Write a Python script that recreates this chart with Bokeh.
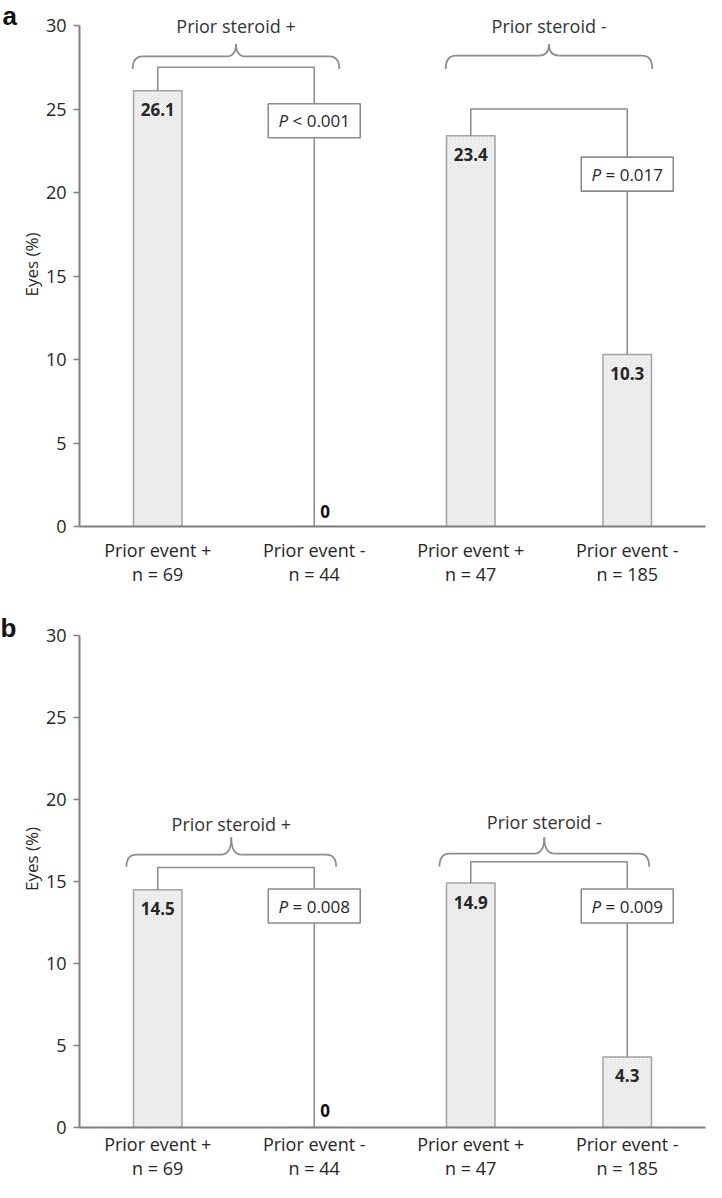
import math
from bokeh.plotting import figure
from bokeh.models import FactorRange, Range1d, Label, FixedTicker, ColumnDataSource
from bokeh.layouts import column
from bokeh.embed import file_html
from bokeh.resources import INLINE
from bokeh.core.properties import value

# ---------------- data ----------------
groups = ["Prior steroid +", "Prior steroid -"]
categories = ["Prior event +", "Prior event -", "Prior event +", "Prior event -"]
n_values = [69, 44, 47, 185]
values_a = [26.1, 0, 23.4, 10.3]
values_b = [14.5, 0, 14.9, 4.3]
p_text_a = ["< 0.001", "= 0.017"]
p_text_b = ["= 0.008", "= 0.009"]
y_ticks = [0, 5, 10, 15, 20, 25, 30]

# ---------------- style ----------------
FONT = "Open Sans"
TXT = "#262626"
LINE = "#8c8c8c"
AXIS = "#808080"

CW = {"0": .572, "1": .572, "2": .572, "3": .572, "4": .572, "5": .572, "6": .572,
      "7": .572, "8": .572, "9": .572, " ": .26, ".": .266, "=": .572, "<": .572}


def tw(s, size):
    return sum(CW.get(c, .57) for c in s) * size


def make_panel(letter, values, ptexts, cfg):
    factors = [f"{categories[i]}\nn = {n_values[i]}" for i in range(len(categories))]
    p = figure(width=714, height=cfg["height"],
               x_range=FactorRange(factors=factors, range_padding=0),
               y_range=Range1d(0, cfg["ytop"]),
               output_backend="svg", toolbar_location=None,
               min_border_left=70, min_border_right=cfg["rb"],
               min_border_top=2, min_border_bottom=cfg["bb"])
    p.xgrid.visible = False
    p.ygrid.visible = False
    p.outline_line_color = None

    # axes
    p.yaxis.ticker = FixedTicker(ticks=y_ticks)
    p.yaxis.bounds = (0, 30)
    p.yaxis.major_tick_out = 6
    p.yaxis.major_tick_in = 0
    p.yaxis.minor_tick_line_color = None
    p.yaxis.axis_line_color = AXIS
    p.yaxis.axis_line_width = 2
    p.yaxis.major_tick_line_color = AXIS
    p.yaxis.major_tick_line_width = 1.5
    p.yaxis.major_label_text_font = FONT
    p.yaxis.major_label_text_font_size = "18px"
    p.yaxis.major_label_text_color = TXT
    p.yaxis.major_label_standoff = 7
    p.yaxis.axis_label = "Eyes (%)"
    p.yaxis.axis_label_text_font = FONT
    p.yaxis.axis_label_text_font_size = "17px"
    p.yaxis.axis_label_text_font_style = "normal"
    p.yaxis.axis_label_text_color = TXT
    p.yaxis.axis_label_standoff = 0

    p.xaxis.major_tick_out = 0
    p.xaxis.major_tick_in = 0
    p.xaxis.major_tick_line_color = None
    p.xaxis.axis_line_color = AXIS
    p.xaxis.axis_line_width = 2
    p.xaxis.major_label_text_font = FONT
    p.xaxis.major_label_text_font_size = "18px"
    p.xaxis.major_label_text_color = TXT
    p.xaxis.major_label_text_line_height = 1.0
    p.xaxis.major_label_standoff = cfg["xstand"]

    # bars
    p.vbar(x=factors, top=values, bottom=0, width=0.31,
           fill_color="#f5f5f5", hatch_pattern="x", hatch_color="#d6d6d6",
           hatch_scale=4, hatch_weight=0.7,
           line_color="#a3a3a3", line_width=1.5)

    # brackets, braces, p boxes
    for g in range(len(groups)):
        il, ir = 2 * g, 2 * g + 1
        xl, xr = il + 0.5, ir + 0.5
        h = cfg["bracket"][g]
        p.line(x=[xl, xl, xr, xr], y=[values[il], h, h, values[ir]],
               line_color=LINE, line_width=1.6)
        p.rect(x=[xr], y=[cfg["box_y"][g]], width=92, height=34,
               width_units="screen", height_units="screen",
               fill_color="white", line_color=LINE, line_width=1.6)
        size = 17
        rest = ptexts[g]
        wp = 0.573 * size
        total = wp + 0.26 * size + tw(rest, size)
        x0 = -total / 2
        p.text(x=[xr], y=[cfg["box_y"][g]], text=["P"], x_offset=x0,
               text_align="left", text_baseline="middle",
               text_font=value(FONT), text_font_size=f"{size}px",
               text_font_style="italic", text_color=TXT)
        p.text(x=[xr], y=[cfg["box_y"][g]], text=[rest], x_offset=x0 + wp + 0.26 * size,
               text_align="left", text_baseline="middle",
               text_font=value(FONT), text_font_size=f"{size}px", text_color=TXT)

        # curly brace
        c = (il + ir) / 2 + 0.5 + cfg["brace_shift"]
        half = cfg["brace_half"]
        bl, br = c - half, c + half
        dx = 0.065
        bh, tip, top = cfg["brace_h"][g], cfg["brace_tip"], cfg["brace_top"]
        p.quadratic(x0=[bl, c - dx, c, br - dx], y0=[tip, bh, top, bh],
                    x1=[bl + dx, c, c + dx, br], y1=[bh, top, bh, tip],
                    cx=[bl, c, c, br], cy=[bh, bh, bh, bh],
                    line_color=LINE, line_width=1.7)
        p.segment(x0=[bl + dx, c + dx], y0=[bh, bh], x1=[c - dx, br - dx], y1=[bh, bh],
                  line_color=LINE, line_width=1.7)
        p.text(x=[c], y=[cfg["group_y"][g]], text=[groups[g]],
               text_align="center", text_baseline="middle",
               text_font=value(FONT), text_font_size="18px", text_color="#333333")

    # bar value labels
    pos = [i for i, v in enumerate(values) if v > 0]
    zero = [i for i, v in enumerate(values) if v == 0]
    src_pos = ColumnDataSource(dict(x=[factors[i] for i in pos], y=[values[i] for i in pos],
                                    t=[f"{values[i]:g}" for i in pos]))
    p.text(x="x", y="y", text="t", source=src_pos, y_offset=19,
           text_align="center", text_baseline="middle",
           text_font=value(FONT), text_font_size="17px", text_font_style="bold",
           text_color=TXT)
    src_zero = ColumnDataSource(dict(x=[factors[i] for i in zero], y=[values[i] for i in zero],
                                     t=[f"{values[i]:g}" for i in zero]))
    p.text(x="x", y="y", text="t", source=src_zero, x_offset=6, y_offset=-cfg["zero_off"],
           text_align="left", text_baseline="middle",
           text_font=value(FONT), text_font_size="17px", text_font_style="bold",
           text_color="#111111")

    # panel letter (in the left side panel, outside the frame)
    p.add_layout(Label(x=0, x_units="screen", y=30, y_offset=cfg["letter_off"], text=letter,
                       text_align="left", text_baseline="alphabetic",
                       text_font="Liberation Sans", text_font_size="26px",
                       text_font_style="bold", text_color="#111111"), "left")
    return p


cfg_a = dict(height=588, ytop=31.38, bb=62, rb=2, xstand=11,
             bracket=[27.5, 25.0], box_y=[24.3, 21.1],
             brace_h=[28.15, 28.2], brace_tip=27.4, brace_top=28.9,
             brace_half=0.66, brace_shift=0.0,
             group_y=[30.0, 30.0], zero_off=15, letter_off=10)
cfg_b = dict(height=594, ytop=32.74, bb=55, rb=9, xstand=4,
             bracket=[15.85, 16.2], box_y=[13.5, 13.5],
             brace_h=[16.64, 16.7], brace_tip=15.9, brace_top=17.7,
             brace_half=0.67, brace_shift=-0.03,
             group_y=[18.5, 18.6], zero_off=17, letter_off=7)

pa = make_panel("a", values_a, p_text_a, cfg_a)
pb = make_panel("b", values_b, p_text_b, cfg_b)

layout = column(pa, pb)
open("out.html", "w").write(file_html(layout, INLINE))
